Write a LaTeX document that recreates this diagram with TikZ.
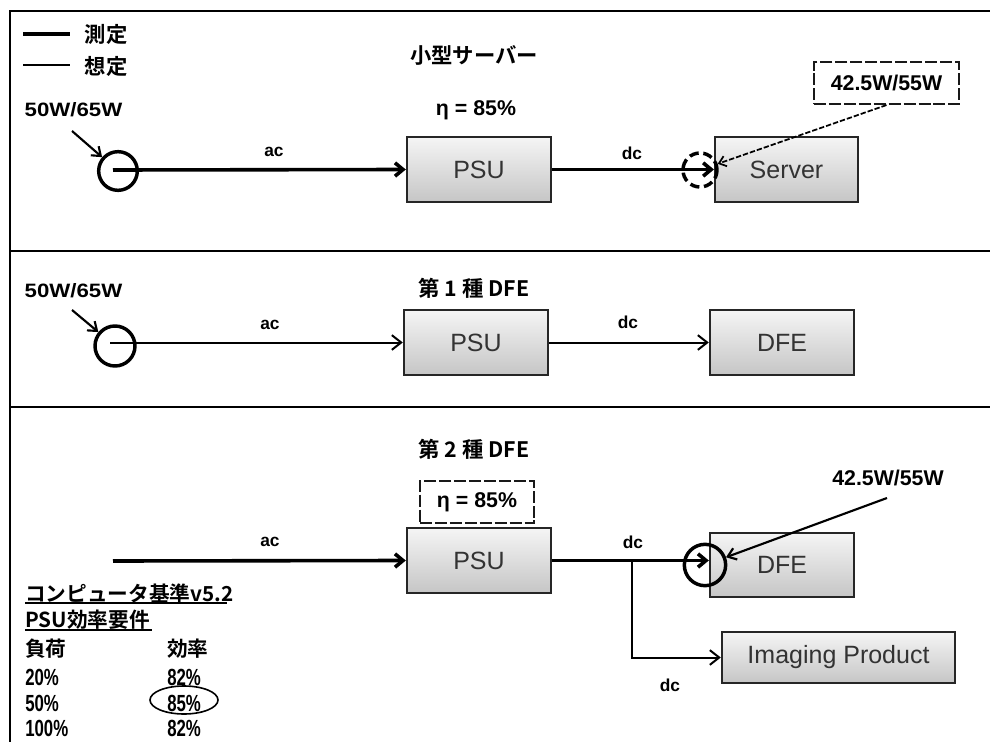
\documentclass[tikz,border=0pt]{standalone}
\usepackage{fontspec}
\setmainfont{Liberation Sans}
\newfontfamily\jpfont[BoldFont={Noto Sans CJK JP Bold}]{Noto Sans CJK JP}
\newfontfamily\widefont[FakeStretch=1.15]{Liberation Sans Bold}
\newfontfamily\narrowfont[FakeStretch=0.72]{Liberation Sans Bold}
\usetikzlibrary{arrows.meta}
\begin{document}
\begin{tikzpicture}[x=0.75pt,y=-0.75pt,
  frame/.style={line width=2.2pt, line cap=rect},
  box/.style={draw=black!85, line width=1.8pt, top color=gray!8, bottom color=gray!45,
    inner sep=0pt, minimum width=108pt, minimum height=48.75pt,
    font=\fontsize{18.75}{20}\selectfont, text=black!80},
  dbox/.style={draw=black!90, line width=1.6pt, dash pattern=on 9pt off 2.2pt, fill=white,
    inner sep=0pt, minimum height=31.5pt},
  ring/.style={circle, draw=black, line width=2.6pt, inner sep=0pt, minimum size=29pt},
  thickc/.style={line width=2.7pt, -{Straight Barb[length=6pt,width=10pt]}},
  thinc/.style={line width=1.5pt, -{Straight Barb[length=7pt,width=11pt]}},
  note/.style={line width=1.6pt, -{Straight Barb[length=6pt,width=9pt]}},
  lbl/.style={font=\bfseries\fontsize{16}{18}\selectfont},
  acdc/.style={font=\bfseries\fontsize{13}{15}\selectfont},
  watt/.style={font=\widefont\fontsize{14.5}{16}\selectfont, anchor=west},
  ttl/.style={font=\jpfont\bfseries\fontsize{16}{18}\selectfont},
  tjp/.style={font=\jpfont\bfseries\fontsize{15.5}{17}\selectfont, anchor=west, inner sep=0pt},
  tnum/.style={font=\narrowfont\fontsize{17.5}{19}\selectfont, anchor=west, inner sep=0pt}]
\useasboundingbox (0,0) rectangle (990,742);
% frame
\draw[frame] (990,11) -- (10,11) -- (10,745);
\draw[frame] (10,251) -- (990,251);
\draw[frame] (10,407) -- (990,407);

% legend
\draw[line width=3pt] (23,34) -- (70,34);
\draw[line width=1.5pt] (23,65) -- (70,65);
\node[ttl, anchor=west] (lg1) at (80,34) {測定};
\node[ttl, anchor=west] (lg2) at (80,66) {想定};

% ===== section 1 =====
\node[ttl] (t1) at (474,55) {小型サーバー};
\node[lbl] (eta1) at (476,110) {η = 85\%};
\node[watt] (p1) at (20,110) {50W/65W};
\node[box] (psu1) at (479,169.5) {PSU};
\node[box, minimum width=107pt] (srv1) at (786.5,169.5) {Server};
\node[ring] (c1) at (118,171) {};
\node[ring, minimum size=25.5pt, dash pattern=on 7pt off 3.5pt] (d1) at (700,170) {};
\node[dbox, minimum width=108.75pt, lbl] (w1) at (886.5,83) {42.5W/55W};
\coordinate (s1) at (113,170);
\coordinate (a1) at (72,131);
\draw[thickc] (s1) -- (psu1.west);
\draw[thickc] (psu1.east) -- (srv1.west);
\draw[note] (a1) -- (c1);
\draw[line width=1.3pt, dash pattern=on 4pt off 1.5pt, -{Straight Barb[length=5pt,width=8pt]}] (w1.south) -- (d1);
\node[acdc] (ac1) at (274,152) {ac};
\node[acdc] (dc1) at (632,153) {dc};

% ===== section 2 =====
\node[ttl] (t2) at (474,288) {第 1 種 DFE};
\node[watt] (p2) at (20,291) {50W/65W};
\node[box] (psu2) at (476,342.5) {PSU};
\node[box] (dfe2) at (782,342.5) {DFE};
\node[ring, minimum size=30pt] (c2) at (115,346) {};
\coordinate (s2) at (110,342.5);
\coordinate (a2) at (72,310);
\draw[thinc] (s2) -- (psu2.west);
\draw[thinc] (psu2.east) -- (dfe2.west);
\draw[note] (a2) -- (c2);
\node[acdc] (ac2) at (270,325) {ac};
\node[acdc] (dc2) at (628,322) {dc};

% ===== section 3 =====
\node[ttl] (t3) at (474,449) {第 2 種 DFE};
\node[dbox, minimum width=85.5pt, lbl] (eta3) at (477,502) {η = 85\%};
\node[box] (psu3) at (479,560.5) {PSU};
\node[box, minimum height=48pt] (dfe3) at (782,565) {DFE};
\node[box, minimum width=174.75pt, minimum height=38.25pt] (img) at (838.5,657.5) {Imaging Product};
\node[ring, minimum size=31pt] (c3) at (705,565) {};
\node[lbl] (w3) at (888,478) {42.5W/55W};
\coordinate (s3) at (113,561);
\coordinate (br) at (632,561);
\coordinate (w3s) at (887,498);
\draw[thickc] (s3) -- (psu3.west);
\draw[thickc] (psu3.east) -- (psu3.east -| dfe3.west);
\draw[thinc] (br) |- (img.west);
\draw[note] (w3s) -- (c3);
\node[acdc] (ac3) at (270,542) {ac};
\node[acdc] (dc3) at (633,542) {dc};
\node[acdc] (dc4) at (670,685) {dc};

% ===== table =====
\node[tjp] (tb1) at (25,594) {コンピュータ基準v5.2};
\draw[line width=1.6pt] (25,603) -- (227,603);
\node[tjp] (tb2) at (25,620) {PSU効率要件};
\draw[line width=1.6pt] (25,630) -- (152,630);
\node[tjp] (h1) at (25,649) {負荷};
\node[tjp] (h2) at (167,649) {効率};
\node[tnum] (r1a) at (25,677) {20\%};
\node[tnum] (r1b) at (167,677) {82\%};
\node[tnum] (r2a) at (25,703) {50\%};
\node[tnum] (r2b) at (167,703) {85\%};
\node[tnum] (r3a) at (25,728) {100\%};
\node[tnum] (r3b) at (167,728) {82\%};
\draw[line width=1.2pt] (184,700) ellipse [x radius=34, y radius=14];
\end{tikzpicture}
\end{document}
